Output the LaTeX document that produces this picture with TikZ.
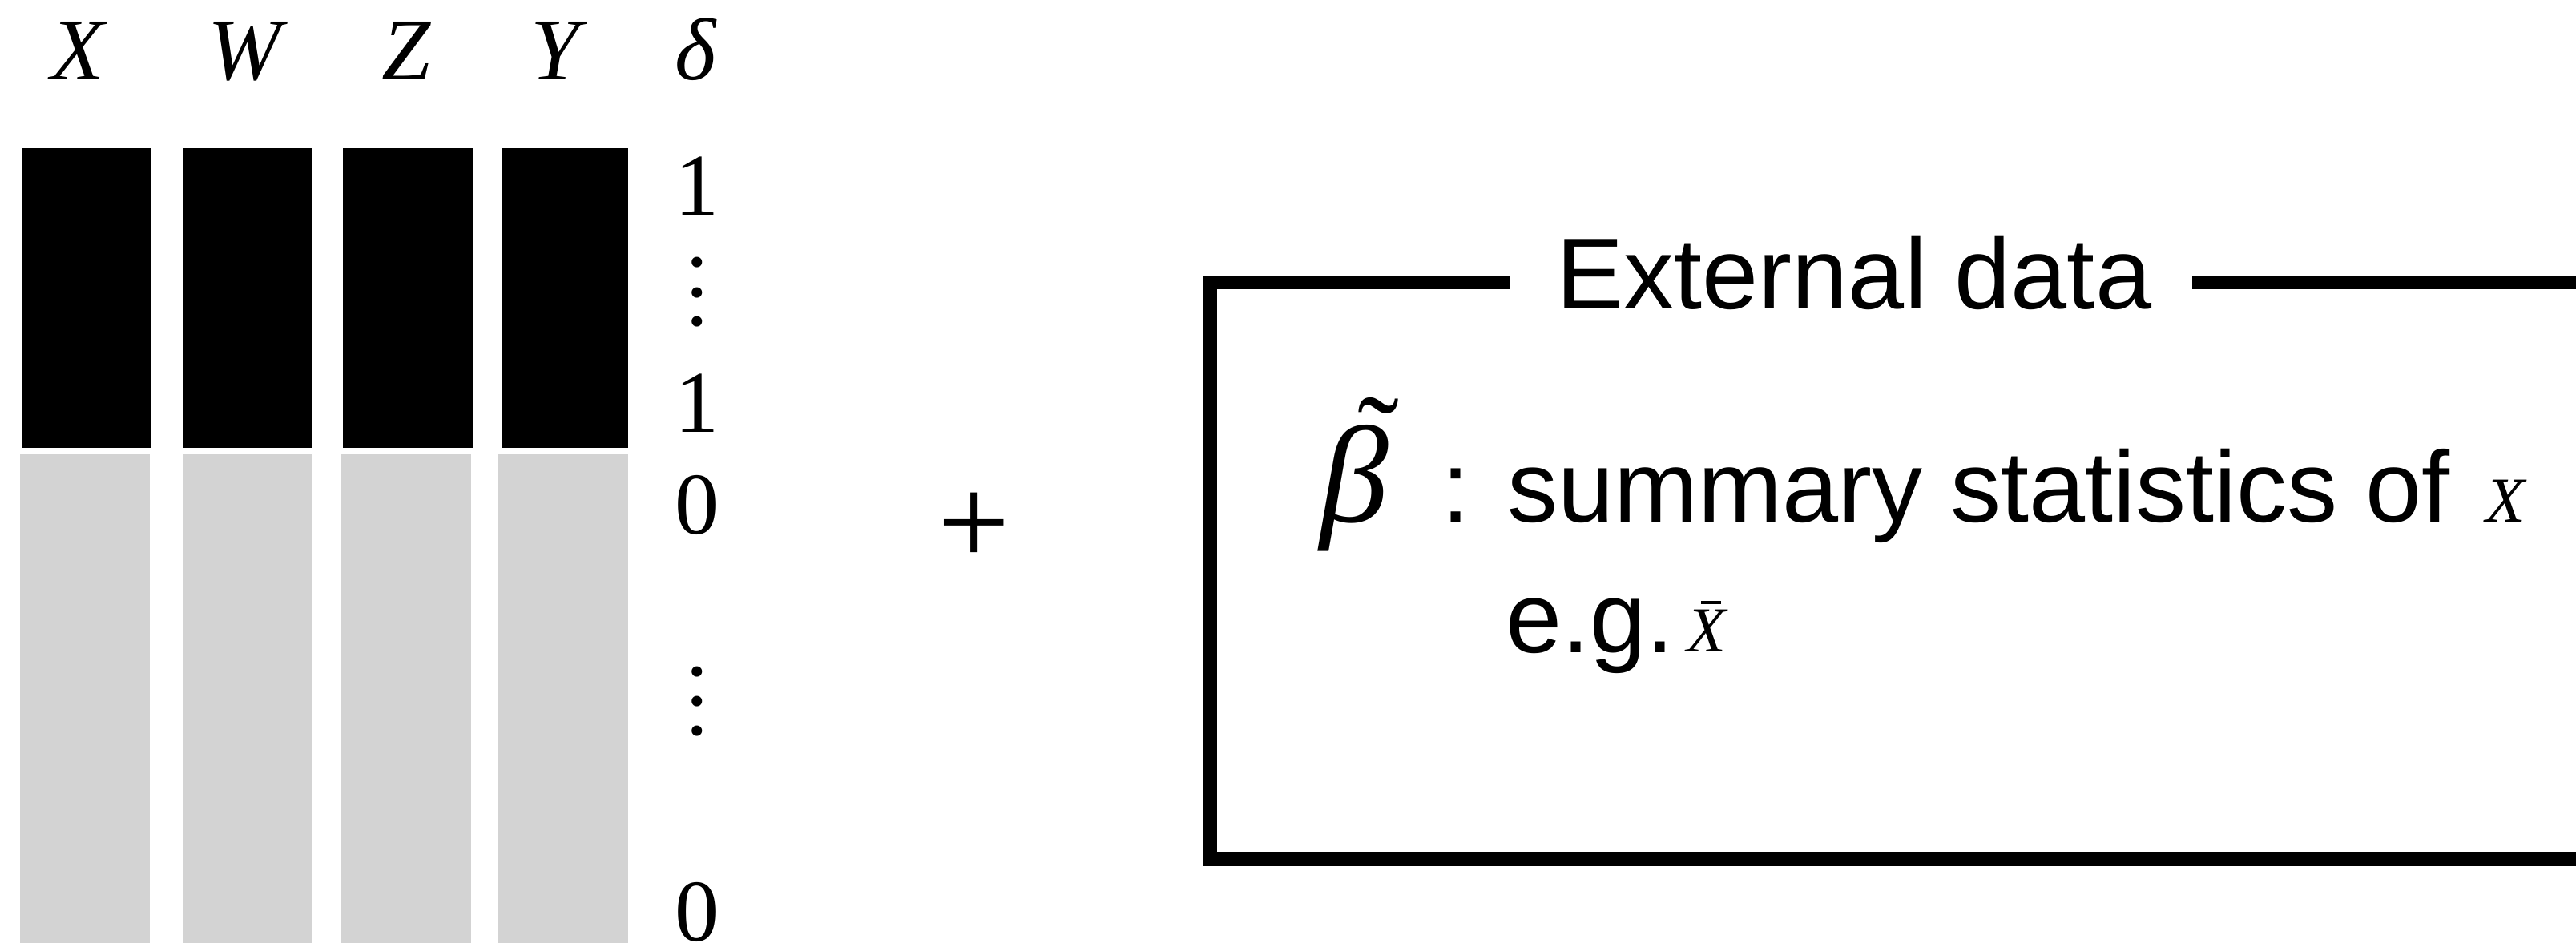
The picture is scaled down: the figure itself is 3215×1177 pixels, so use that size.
\documentclass[tikz,border=0pt]{standalone}
\usepackage{fontspec}
\setmainfont{Liberation Serif}
\newfontfamily\sansf{Liberation Sans}
\definecolor{cellgray}{RGB}{211,211,211}
\newcommand{\threedots}{\vbox{\baselineskip=9.25pt\lineskiplimit=-100pt\lineskip=0pt\hbox{.}\hbox{.}\hbox{.}}}
\begin{document}
\begin{tikzpicture}[x=0.25pt,y=-0.25pt,
  lbl/.style={inner sep=0pt, anchor=base, font=\fontsize{27.5}{30}\selectfont\itshape},
  num/.style={inner sep=0pt, anchor=base, font=\fontsize{27.5}{30}\selectfont},
  dotc/.style={inner sep=0pt, anchor=base, font=\fontsize{27.5}{30}\selectfont},
  sanstext/.style={inner sep=0pt, anchor=base west, font=\sansf\fontsize{31.5}{36}\selectfont},
  smallvar/.style={inner sep=0pt, anchor=base, font=\fontsize{20}{22}\selectfont\itshape},
  obs/.style={fill=black},
  miss/.style={fill=cellgray},
  frame/.style={line width=4.25pt, line join=miter}]
\useasboundingbox (0,0) rectangle (3215,1177);
\clip (0,0) rectangle (3215,1177);
% column labels
\node[lbl] (lX) at (97,100) {X};
\node[lbl] (lW) at (305,100) {W};
\node[lbl] (lZ) at (507,100) {Z};
\node[lbl] (lY) at (693,100) {Y};
\node[lbl] (ld) at (868,100) {δ};
% observed (black) cells
\fill[obs] (27,185) rectangle (189,559);
\fill[obs] (228,185) rectangle (390,559);
\fill[obs] (428,185) rectangle (590,559);
\fill[obs] (626,185) rectangle (784,559);
% grey cells
\fill[miss] (25,567) rectangle (187,1190);
\fill[miss] (228,567) rectangle (390,1190);
\fill[miss] (426,567) rectangle (588,1190);
\fill[miss] (622,567) rectangle (784,1190);
% delta values
\node[num] (n1a) at (870,268) {1};
\node[dotc] (dA) at (870,407) {\threedots};
\node[num] (n1b) at (870,540) {1};
\node[num] (n0a) at (870,666) {0};
\node[dotc] (dB) at (870,917) {\threedots};
\node[num] (n0b) at (870,1174) {0};
% plus
\node[inner sep=0pt, font=\fontsize{40}{44}\selectfont] (plus) at (1216,660) {+};
% external data frame
\draw[frame] (1884,353) -- (1510,353) -- (1510,1072) -- (3260,1072);
\draw[frame] (2736,353) -- (3260,353);
\node[sanstext] (ext) at (1942,385) {External data};
% beta tilde
\node[inner sep=0pt, anchor=base, font=\fontsize{43}{46}\selectfont\itshape] (beta) at (1690,651) {β};
\node[inner sep=0pt, anchor=base, font=\fontsize{39}{42}\selectfont] (tilde) at (1720,601) {˜};
\node[sanstext] (summ) at (1799,651) {: summary statistics of};
\node[smallvar] (xof) at (3127,651) {X};
\node[sanstext] (eg) at (1879,814) {e.g.};
\node[smallvar] (xbar) at (2130,813) {X};
\draw[line width=1pt] (2123,752) -- (2148,752);
\end{tikzpicture}
\end{document}
